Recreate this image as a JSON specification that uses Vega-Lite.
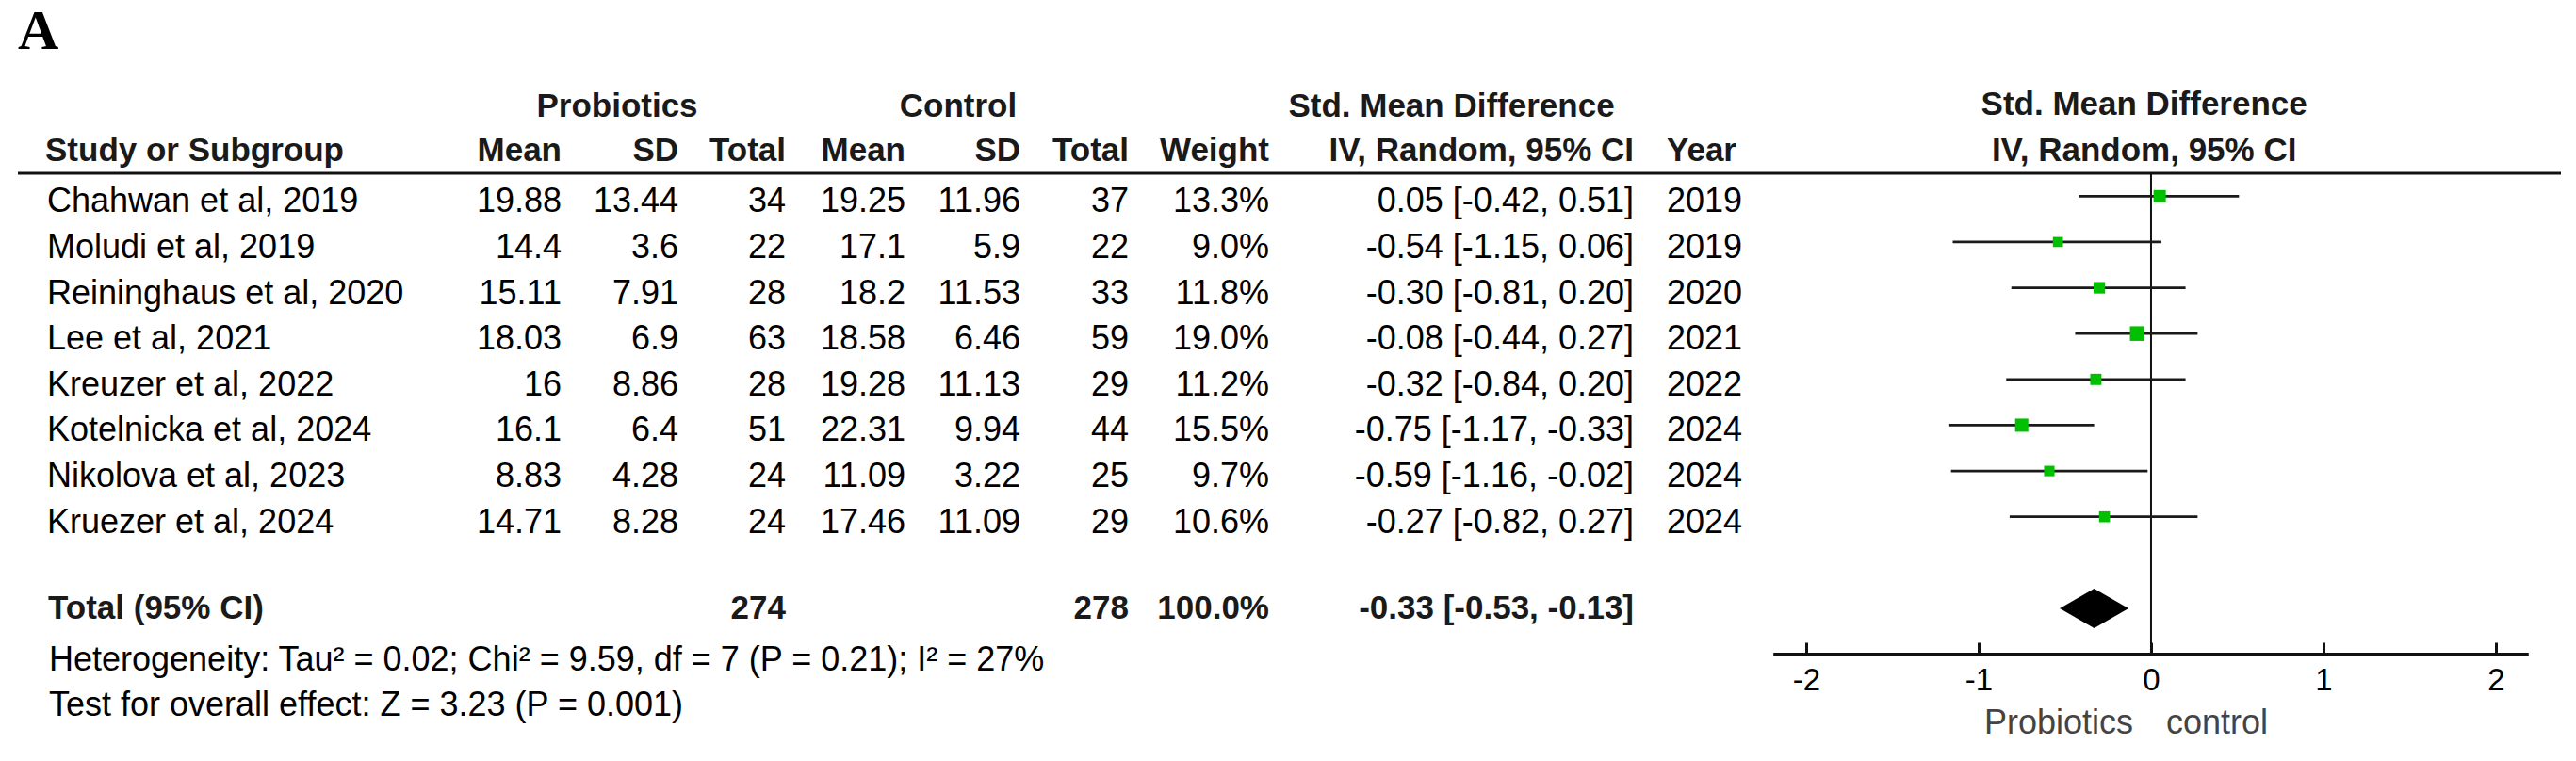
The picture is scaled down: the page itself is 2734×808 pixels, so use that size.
{
  "$schema": "https://vega.github.io/schema/vega-lite/v6.json",
  "background": "white",
  "padding": {"left": 17, "right": 18, "top": 0, "bottom": 0},
  "spacing": 0,
  "bounds": "flush",
  "config": {"view": {"stroke": null}},
  "resolve": {"scale": {"x": "independent", "y": "independent"}},
  "datasets": {
    "studies": [
      {"row": 1, "study": "Chahwan et al, 2019", "m1": "19.88", "sd1": "13.44", "n1": 34, "m2": "19.25", "sd2": "11.96", "n2": 37, "weight": 0.133, "ci": "0.05 [-0.42, 0.51]", "year": 2019, "smd": 0.05, "lo": -0.42, "hi": 0.51},
      {"row": 2, "study": "Moludi et al, 2019", "m1": "14.4", "sd1": "3.6", "n1": 22, "m2": "17.1", "sd2": "5.9", "n2": 22, "weight": 0.09, "ci": "-0.54 [-1.15, 0.06]", "year": 2019, "smd": -0.54, "lo": -1.15, "hi": 0.06},
      {"row": 3, "study": "Reininghaus et al, 2020", "m1": "15.11", "sd1": "7.91", "n1": 28, "m2": "18.2", "sd2": "11.53", "n2": 33, "weight": 0.118, "ci": "-0.30 [-0.81, 0.20]", "year": 2020, "smd": -0.30, "lo": -0.81, "hi": 0.20},
      {"row": 4, "study": "Lee et al, 2021", "m1": "18.03", "sd1": "6.9", "n1": 63, "m2": "18.58", "sd2": "6.46", "n2": 59, "weight": 0.19, "ci": "-0.08 [-0.44, 0.27]", "year": 2021, "smd": -0.08, "lo": -0.44, "hi": 0.27},
      {"row": 5, "study": "Kreuzer et al, 2022", "m1": "16", "sd1": "8.86", "n1": 28, "m2": "19.28", "sd2": "11.13", "n2": 29, "weight": 0.112, "ci": "-0.32 [-0.84, 0.20]", "year": 2022, "smd": -0.32, "lo": -0.84, "hi": 0.20},
      {"row": 6, "study": "Kotelnicka et al, 2024", "m1": "16.1", "sd1": "6.4", "n1": 51, "m2": "22.31", "sd2": "9.94", "n2": 44, "weight": 0.155, "ci": "-0.75 [-1.17, -0.33]", "year": 2024, "smd": -0.75, "lo": -1.17, "hi": -0.33},
      {"row": 7, "study": "Nikolova et al, 2023", "m1": "8.83", "sd1": "4.28", "n1": 24, "m2": "11.09", "sd2": "3.22", "n2": 25, "weight": 0.097, "ci": "-0.59 [-1.16, -0.02]", "year": 2024, "smd": -0.59, "lo": -1.16, "hi": -0.02},
      {"row": 8, "study": "Kruezer et al, 2024", "m1": "14.71", "sd1": "8.28", "n1": 24, "m2": "17.46", "sd2": "11.09", "n2": 29, "weight": 0.106, "ci": "-0.27 [-0.82, 0.27]", "year": 2024, "smd": -0.27, "lo": -0.82, "hi": 0.27}
    ],
    "total": [
      {"row": 10, "label": "Total (95% CI)", "n1": 274, "n2": 278, "weight": 1.0, "ci": "-0.33 [-0.53, -0.13]", "smd": -0.33, "lo": -0.53, "hi": -0.13}
    ],
    "notes": [
      {"row": 11, "t": "Heterogeneity: Tau² = 0.02; Chi² = 9.59, df = 7 (P = 0.21); I² = 27%"},
      {"row": 12, "t": "Test for overall effect: Z = 3.23 (P = 0.001)"}
    ]
  },
  "hconcat": [
    {
      "width": 423, "height": 808,
      "layer": [
        {"data": {"values": [{}]}, "mark": {"type": "rule", "strokeWidth": 3, "color": "#111"}, "encoding": {"y": {"datum": 0.5, "type": "quantitative", "scale": {"domain": [-3.283, 13.332], "reverse": true, "nice": false, "zero": false}, "axis": null}}},
        {"data": {"values": [{"row": -2.58, "t": "A"}]}, "mark": {"type": "text", "align": "left", "baseline": "middle", "font": "Liberation Serif", "fontSize": 60, "fontWeight": "bold", "color": "#000"}, "encoding": {"x": {"value": 0}, "y": {"field": "row", "type": "quantitative", "scale": {"domain": [-3.283, 13.332], "reverse": true, "nice": false, "zero": false}, "axis": null}, "text": {"field": "t"}}},
        {"data": {"values": [{"row": 0, "t": "Study or Subgroup"}]}, "mark": {"type": "text", "align": "left", "baseline": "middle", "dx": 29, "font": "Liberation Sans", "fontSize": 35, "fontWeight": "bold", "color": "#1a1a1a"}, "encoding": {"x": {"value": 0}, "y": {"field": "row", "type": "quantitative", "scale": {"domain": [-3.283, 13.332], "reverse": true, "nice": false, "zero": false}, "axis": null}, "text": {"field": "t"}}},
        {"data": {"name": "studies"}, "mark": {"type": "text", "align": "left", "baseline": "middle", "dx": 31, "dy": 6, "font": "Liberation Sans", "fontSize": 36, "color": "#000"}, "encoding": {"x": {"value": 0}, "y": {"field": "row", "type": "quantitative", "scale": {"domain": [-3.283, 13.332], "reverse": true, "nice": false, "zero": false}, "axis": null}, "text": {"field": "study", "type": "nominal"}}},
        {"data": {"name": "total"}, "mark": {"type": "text", "align": "left", "baseline": "middle", "dx": 32, "font": "Liberation Sans", "fontSize": 35, "fontWeight": "bold", "color": "#1a1a1a"}, "encoding": {"x": {"value": 0}, "y": {"field": "row", "type": "quantitative", "scale": {"domain": [-3.283, 13.332], "reverse": true, "nice": false, "zero": false}, "axis": null}, "text": {"field": "label", "type": "nominal"}}},
        {"data": {"name": "notes"}, "mark": {"type": "text", "align": "left", "baseline": "middle", "dx": 33, "dy": 6, "font": "Liberation Sans", "fontSize": 36, "color": "#000"}, "encoding": {"x": {"value": 0}, "y": {"field": "row", "type": "quantitative", "scale": {"domain": [-3.283, 13.332], "reverse": true, "nice": false, "zero": false}, "axis": null}, "text": {"field": "t", "type": "nominal"}}}
      ]
    },
    {
      "width": 154, "height": 808,
      "layer": [
        {"data": {"values": [{}]}, "mark": {"type": "rule", "strokeWidth": 3, "color": "#111"}, "encoding": {"y": {"datum": 0.5, "type": "quantitative", "scale": {"domain": [-3.283, 13.332], "reverse": true, "nice": false, "zero": false}, "axis": null}}},
        {"data": {"values": [{"row": 0, "t": "Mean"}]}, "mark": {"type": "text", "align": "right", "baseline": "middle", "font": "Liberation Sans", "fontSize": 35, "fontWeight": "bold", "color": "#1a1a1a"}, "encoding": {"x": {"value": "width"}, "y": {"field": "row", "type": "quantitative", "scale": {"domain": [-3.283, 13.332], "reverse": true, "nice": false, "zero": false}, "axis": null}, "text": {"field": "t"}}},
        {"data": {"name": "studies"}, "mark": {"type": "text", "align": "right", "baseline": "middle", "dy": 6, "font": "Liberation Sans", "fontSize": 36, "color": "#000"}, "encoding": {"x": {"value": "width"}, "y": {"field": "row", "type": "quantitative", "scale": {"domain": [-3.283, 13.332], "reverse": true, "nice": false, "zero": false}, "axis": null}, "text": {"field": "m1", "type": "nominal"}}}
      ]
    },
    {
      "width": 124, "height": 808,
      "layer": [
        {"data": {"values": [{}]}, "mark": {"type": "rule", "strokeWidth": 3, "color": "#111"}, "encoding": {"y": {"datum": 0.5, "type": "quantitative", "scale": {"domain": [-3.283, 13.332], "reverse": true, "nice": false, "zero": false}, "axis": null}}},
        {"data": {"values": [{"row": -1, "t": "Probiotics"}]}, "mark": {"type": "text", "align": "center", "baseline": "middle", "dx": -3, "dy": 2, "font": "Liberation Sans", "fontSize": 35, "fontWeight": "bold", "color": "#1a1a1a"}, "encoding": {"y": {"field": "row", "type": "quantitative", "scale": {"domain": [-3.283, 13.332], "reverse": true, "nice": false, "zero": false}, "axis": null}, "text": {"field": "t"}}},
        {"data": {"values": [{"row": 0, "t": "SD"}]}, "mark": {"type": "text", "align": "right", "baseline": "middle", "font": "Liberation Sans", "fontSize": 35, "fontWeight": "bold", "color": "#1a1a1a"}, "encoding": {"x": {"value": "width"}, "y": {"field": "row", "type": "quantitative", "scale": {"domain": [-3.283, 13.332], "reverse": true, "nice": false, "zero": false}, "axis": null}, "text": {"field": "t"}}},
        {"data": {"name": "studies"}, "mark": {"type": "text", "align": "right", "baseline": "middle", "dy": 6, "font": "Liberation Sans", "fontSize": 36, "color": "#000"}, "encoding": {"x": {"value": "width"}, "y": {"field": "row", "type": "quantitative", "scale": {"domain": [-3.283, 13.332], "reverse": true, "nice": false, "zero": false}, "axis": null}, "text": {"field": "sd1", "type": "nominal"}}}
      ]
    },
    {
      "width": 114, "height": 808,
      "layer": [
        {"data": {"values": [{}]}, "mark": {"type": "rule", "strokeWidth": 3, "color": "#111"}, "encoding": {"y": {"datum": 0.5, "type": "quantitative", "scale": {"domain": [-3.283, 13.332], "reverse": true, "nice": false, "zero": false}, "axis": null}}},
        {"data": {"values": [{"row": 0, "t": "Total"}]}, "mark": {"type": "text", "align": "right", "baseline": "middle", "font": "Liberation Sans", "fontSize": 35, "fontWeight": "bold", "color": "#1a1a1a"}, "encoding": {"x": {"value": "width"}, "y": {"field": "row", "type": "quantitative", "scale": {"domain": [-3.283, 13.332], "reverse": true, "nice": false, "zero": false}, "axis": null}, "text": {"field": "t"}}},
        {"data": {"name": "studies"}, "mark": {"type": "text", "align": "right", "baseline": "middle", "dy": 6, "font": "Liberation Sans", "fontSize": 36, "color": "#000"}, "encoding": {"x": {"value": "width"}, "y": {"field": "row", "type": "quantitative", "scale": {"domain": [-3.283, 13.332], "reverse": true, "nice": false, "zero": false}, "axis": null}, "text": {"field": "n1", "type": "nominal"}}},
        {"data": {"name": "total"}, "mark": {"type": "text", "align": "right", "baseline": "middle", "font": "Liberation Sans", "fontSize": 35, "fontWeight": "bold", "color": "#1a1a1a"}, "encoding": {"x": {"value": "width"}, "y": {"field": "row", "type": "quantitative", "scale": {"domain": [-3.283, 13.332], "reverse": true, "nice": false, "zero": false}, "axis": null}, "text": {"field": "n1", "type": "nominal"}}}
      ]
    },
    {
      "width": 127, "height": 808,
      "layer": [
        {"data": {"values": [{}]}, "mark": {"type": "rule", "strokeWidth": 3, "color": "#111"}, "encoding": {"y": {"datum": 0.5, "type": "quantitative", "scale": {"domain": [-3.283, 13.332], "reverse": true, "nice": false, "zero": false}, "axis": null}}},
        {"data": {"values": [{"row": 0, "t": "Mean"}]}, "mark": {"type": "text", "align": "right", "baseline": "middle", "font": "Liberation Sans", "fontSize": 35, "fontWeight": "bold", "color": "#1a1a1a"}, "encoding": {"x": {"value": "width"}, "y": {"field": "row", "type": "quantitative", "scale": {"domain": [-3.283, 13.332], "reverse": true, "nice": false, "zero": false}, "axis": null}, "text": {"field": "t"}}},
        {"data": {"name": "studies"}, "mark": {"type": "text", "align": "right", "baseline": "middle", "dy": 6, "font": "Liberation Sans", "fontSize": 36, "color": "#000"}, "encoding": {"x": {"value": "width"}, "y": {"field": "row", "type": "quantitative", "scale": {"domain": [-3.283, 13.332], "reverse": true, "nice": false, "zero": false}, "axis": null}, "text": {"field": "m2", "type": "nominal"}}}
      ]
    },
    {
      "width": 122, "height": 808,
      "layer": [
        {"data": {"values": [{}]}, "mark": {"type": "rule", "strokeWidth": 3, "color": "#111"}, "encoding": {"y": {"datum": 0.5, "type": "quantitative", "scale": {"domain": [-3.283, 13.332], "reverse": true, "nice": false, "zero": false}, "axis": null}}},
        {"data": {"values": [{"row": -1, "t": "Control"}]}, "mark": {"type": "text", "align": "center", "baseline": "middle", "dx": -5, "dy": 2, "font": "Liberation Sans", "fontSize": 35, "fontWeight": "bold", "color": "#1a1a1a"}, "encoding": {"y": {"field": "row", "type": "quantitative", "scale": {"domain": [-3.283, 13.332], "reverse": true, "nice": false, "zero": false}, "axis": null}, "text": {"field": "t"}}},
        {"data": {"values": [{"row": 0, "t": "SD"}]}, "mark": {"type": "text", "align": "right", "baseline": "middle", "font": "Liberation Sans", "fontSize": 35, "fontWeight": "bold", "color": "#1a1a1a"}, "encoding": {"x": {"value": "width"}, "y": {"field": "row", "type": "quantitative", "scale": {"domain": [-3.283, 13.332], "reverse": true, "nice": false, "zero": false}, "axis": null}, "text": {"field": "t"}}},
        {"data": {"name": "studies"}, "mark": {"type": "text", "align": "right", "baseline": "middle", "dy": 6, "font": "Liberation Sans", "fontSize": 36, "color": "#000"}, "encoding": {"x": {"value": "width"}, "y": {"field": "row", "type": "quantitative", "scale": {"domain": [-3.283, 13.332], "reverse": true, "nice": false, "zero": false}, "axis": null}, "text": {"field": "sd2", "type": "nominal"}}}
      ]
    },
    {
      "width": 115, "height": 808,
      "layer": [
        {"data": {"values": [{}]}, "mark": {"type": "rule", "strokeWidth": 3, "color": "#111"}, "encoding": {"y": {"datum": 0.5, "type": "quantitative", "scale": {"domain": [-3.283, 13.332], "reverse": true, "nice": false, "zero": false}, "axis": null}}},
        {"data": {"values": [{"row": 0, "t": "Total"}]}, "mark": {"type": "text", "align": "right", "baseline": "middle", "font": "Liberation Sans", "fontSize": 35, "fontWeight": "bold", "color": "#1a1a1a"}, "encoding": {"x": {"value": "width"}, "y": {"field": "row", "type": "quantitative", "scale": {"domain": [-3.283, 13.332], "reverse": true, "nice": false, "zero": false}, "axis": null}, "text": {"field": "t"}}},
        {"data": {"name": "studies"}, "mark": {"type": "text", "align": "right", "baseline": "middle", "dy": 6, "font": "Liberation Sans", "fontSize": 36, "color": "#000"}, "encoding": {"x": {"value": "width"}, "y": {"field": "row", "type": "quantitative", "scale": {"domain": [-3.283, 13.332], "reverse": true, "nice": false, "zero": false}, "axis": null}, "text": {"field": "n2", "type": "nominal"}}},
        {"data": {"name": "total"}, "mark": {"type": "text", "align": "right", "baseline": "middle", "font": "Liberation Sans", "fontSize": 35, "fontWeight": "bold", "color": "#1a1a1a"}, "encoding": {"x": {"value": "width"}, "y": {"field": "row", "type": "quantitative", "scale": {"domain": [-3.283, 13.332], "reverse": true, "nice": false, "zero": false}, "axis": null}, "text": {"field": "n2", "type": "nominal"}}}
      ]
    },
    {
      "width": 149, "height": 808,
      "layer": [
        {"data": {"values": [{}]}, "mark": {"type": "rule", "strokeWidth": 3, "color": "#111"}, "encoding": {"y": {"datum": 0.5, "type": "quantitative", "scale": {"domain": [-3.283, 13.332], "reverse": true, "nice": false, "zero": false}, "axis": null}}},
        {"data": {"values": [{"row": 0, "t": "Weight"}]}, "mark": {"type": "text", "align": "right", "baseline": "middle", "font": "Liberation Sans", "fontSize": 35, "fontWeight": "bold", "color": "#1a1a1a"}, "encoding": {"x": {"value": "width"}, "y": {"field": "row", "type": "quantitative", "scale": {"domain": [-3.283, 13.332], "reverse": true, "nice": false, "zero": false}, "axis": null}, "text": {"field": "t"}}},
        {"data": {"name": "studies"}, "mark": {"type": "text", "align": "right", "baseline": "middle", "dy": 6, "font": "Liberation Sans", "fontSize": 36, "color": "#000"}, "encoding": {"x": {"value": "width"}, "y": {"field": "row", "type": "quantitative", "scale": {"domain": [-3.283, 13.332], "reverse": true, "nice": false, "zero": false}, "axis": null}, "text": {"field": "weight", "type": "quantitative", "format": ".1%"}}},
        {"data": {"name": "total"}, "mark": {"type": "text", "align": "right", "baseline": "middle", "font": "Liberation Sans", "fontSize": 35, "fontWeight": "bold", "color": "#1a1a1a"}, "encoding": {"x": {"value": "width"}, "y": {"field": "row", "type": "quantitative", "scale": {"domain": [-3.283, 13.332], "reverse": true, "nice": false, "zero": false}, "axis": null}, "text": {"field": "weight", "type": "quantitative", "format": ".1%"}}}
      ]
    },
    {
      "width": 387, "height": 808,
      "layer": [
        {"data": {"values": [{}]}, "mark": {"type": "rule", "strokeWidth": 3, "color": "#111"}, "encoding": {"y": {"datum": 0.5, "type": "quantitative", "scale": {"domain": [-3.283, 13.332], "reverse": true, "nice": false, "zero": false}, "axis": null}}},
        {"data": {"values": [{"row": -1, "t": "Std. Mean Difference"}]}, "mark": {"type": "text", "align": "center", "baseline": "middle", "dy": 2, "font": "Liberation Sans", "fontSize": 35, "fontWeight": "bold", "color": "#1a1a1a"}, "encoding": {"y": {"field": "row", "type": "quantitative", "scale": {"domain": [-3.283, 13.332], "reverse": true, "nice": false, "zero": false}, "axis": null}, "text": {"field": "t"}}},
        {"data": {"values": [{"row": 0, "t": "IV, Random, 95% CI"}]}, "mark": {"type": "text", "align": "right", "baseline": "middle", "font": "Liberation Sans", "fontSize": 35, "fontWeight": "bold", "color": "#1a1a1a"}, "encoding": {"x": {"value": "width"}, "y": {"field": "row", "type": "quantitative", "scale": {"domain": [-3.283, 13.332], "reverse": true, "nice": false, "zero": false}, "axis": null}, "text": {"field": "t"}}},
        {"data": {"name": "studies"}, "mark": {"type": "text", "align": "right", "baseline": "middle", "dy": 6, "font": "Liberation Sans", "fontSize": 36, "color": "#000"}, "encoding": {"x": {"value": "width"}, "y": {"field": "row", "type": "quantitative", "scale": {"domain": [-3.283, 13.332], "reverse": true, "nice": false, "zero": false}, "axis": null}, "text": {"field": "ci", "type": "nominal"}}},
        {"data": {"name": "total"}, "mark": {"type": "text", "align": "right", "baseline": "middle", "font": "Liberation Sans", "fontSize": 35, "fontWeight": "bold", "color": "#1a1a1a"}, "encoding": {"x": {"value": "width"}, "y": {"field": "row", "type": "quantitative", "scale": {"domain": [-3.283, 13.332], "reverse": true, "nice": false, "zero": false}, "axis": null}, "text": {"field": "ci", "type": "nominal"}}}
      ]
    },
    {
      "width": 148, "height": 808,
      "layer": [
        {"data": {"values": [{}]}, "mark": {"type": "rule", "strokeWidth": 3, "color": "#111"}, "encoding": {"y": {"datum": 0.5, "type": "quantitative", "scale": {"domain": [-3.283, 13.332], "reverse": true, "nice": false, "zero": false}, "axis": null}}},
        {"data": {"values": [{"row": 0, "t": "Year"}]}, "mark": {"type": "text", "align": "left", "baseline": "middle", "dx": 35, "font": "Liberation Sans", "fontSize": 35, "fontWeight": "bold", "color": "#1a1a1a"}, "encoding": {"x": {"value": 0}, "y": {"field": "row", "type": "quantitative", "scale": {"domain": [-3.283, 13.332], "reverse": true, "nice": false, "zero": false}, "axis": null}, "text": {"field": "t"}}},
        {"data": {"name": "studies"}, "mark": {"type": "text", "align": "left", "baseline": "middle", "dx": 35, "dy": 6, "font": "Liberation Sans", "fontSize": 36, "color": "#000"}, "encoding": {"x": {"value": 0}, "y": {"field": "row", "type": "quantitative", "scale": {"domain": [-3.283, 13.332], "reverse": true, "nice": false, "zero": false}, "axis": null}, "text": {"field": "year", "type": "nominal"}}}
      ]
    },
    {
      "width": 836, "height": 808,
      "layer": [
        {"data": {"values": [{"row": -1, "t": "Std. Mean Difference"}, {"row": 0, "t": "IV, Random, 95% CI"}]}, "mark": {"type": "text", "align": "center", "baseline": "middle", "font": "Liberation Sans", "fontSize": 35, "fontWeight": "bold", "color": "#1a1a1a"}, "encoding": {"x": {"datum": -0.04, "type": "quantitative", "scale": {"domain": [-2.191, 2.377], "nice": false, "zero": false}, "axis": {"values": [-2, -1, 0, 1, 2], "orient": "bottom", "domain": false, "grid": false, "ticks": true, "tickSize": -12, "tickWidth": 3, "tickColor": "#111", "labelFont": "Liberation Sans", "labelFontSize": 33, "labelColor": "#000", "labelPadding": 24, "labelExpr": "'' + datum.value", "labelFlush": false, "labelOverlap": false, "offset": -114, "title": null}}, "y": {"field": "row", "type": "quantitative", "scale": {"domain": [-3.283, 13.332], "reverse": true, "nice": false, "zero": false}, "axis": null}, "text": {"field": "t"}}},
        {"data": {"values": [{}]}, "mark": {"type": "rule", "strokeWidth": 3, "color": "#111"}, "encoding": {"y": {"datum": 0.5, "type": "quantitative", "scale": {"domain": [-3.283, 13.332], "reverse": true, "nice": false, "zero": false}, "axis": null}}},
        {"data": {"values": [{}]}, "mark": {"type": "rule", "strokeWidth": 2, "color": "#111"}, "encoding": {"x": {"datum": 0, "type": "quantitative"}, "y": {"datum": 0.5, "type": "quantitative", "scale": {"domain": [-3.283, 13.332], "reverse": true, "nice": false, "zero": false}, "axis": null}, "y2": {"datum": 11}}},
        {"data": {"name": "studies"}, "mark": {"type": "rule", "strokeWidth": 2.7, "color": "#1a1a1a"}, "encoding": {"x": {"field": "lo", "type": "quantitative"}, "x2": {"field": "hi"}, "y": {"field": "row", "type": "quantitative", "scale": {"domain": [-3.283, 13.332], "reverse": true, "nice": false, "zero": false}, "axis": null}}},
        {"data": {"name": "studies"}, "mark": {"type": "point", "shape": "square", "filled": true, "opacity": 1, "color": "#00c000", "strokeWidth": 0}, "encoding": {"x": {"field": "smd", "type": "quantitative"}, "y": {"field": "row", "type": "quantitative", "scale": {"domain": [-3.283, 13.332], "reverse": true, "nice": false, "zero": false}, "axis": null}, "size": {"field": "weight", "type": "quantitative", "scale": {"domain": [0, 0.2], "range": [0, 254]}, "legend": null}}},
        {"data": {"name": "total"}, "mark": {"type": "point", "shape": "M-1,0L0,-0.575L1,0L0,0.575Z", "filled": true, "opacity": 1, "color": "#000", "strokeWidth": 0, "size": 5329}, "encoding": {"x": {"field": "smd", "type": "quantitative"}, "y": {"field": "row", "type": "quantitative", "scale": {"domain": [-3.283, 13.332], "reverse": true, "nice": false, "zero": false}, "axis": null}}},
        {"data": {"values": [{}]}, "mark": {"type": "rule", "strokeWidth": 3, "color": "#111"}, "encoding": {"x": {"datum": -2.19, "type": "quantitative"}, "x2": {"datum": 2.19}, "y": {"datum": 11, "type": "quantitative", "scale": {"domain": [-3.283, 13.332], "reverse": true, "nice": false, "zero": false}, "axis": null}}},
        {"data": {"values": [{}]}, "mark": {"type": "text", "align": "right", "baseline": "middle", "font": "Liberation Sans", "fontSize": 36, "color": "#444", "text": "Probiotics"}, "encoding": {"x": {"datum": -0.104, "type": "quantitative"}, "y": {"datum": 12.5, "type": "quantitative", "scale": {"domain": [-3.283, 13.332], "reverse": true, "nice": false, "zero": false}, "axis": null}}},
        {"data": {"values": [{}]}, "mark": {"type": "text", "align": "left", "baseline": "middle", "font": "Liberation Sans", "fontSize": 36, "color": "#444", "text": "control"}, "encoding": {"x": {"datum": 0.087, "type": "quantitative"}, "y": {"datum": 12.5, "type": "quantitative", "scale": {"domain": [-3.283, 13.332], "reverse": true, "nice": false, "zero": false}, "axis": null}}}
      ]
    }
  ]
}
